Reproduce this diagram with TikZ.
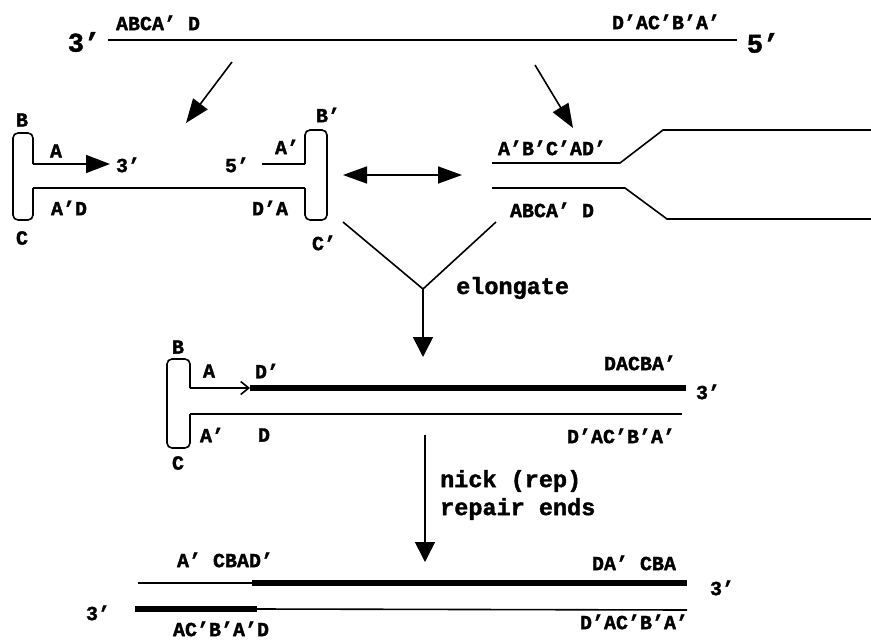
\documentclass[tikz,border=0pt]{standalone}
\usepackage{fontspec}
\setmainfont{Liberation Mono}[BoldFeatures={FakeBold=1.6}]
\usetikzlibrary{arrows.meta}
\begin{document}
\begin{tikzpicture}[x=1pt,y=-1pt,
  lab/.style={inner sep=0pt, font=\fontsize{20}{20}\selectfont\bfseries},
  big/.style={inner sep=0pt, font=\fontsize{27}{27}\selectfont\bfseries},
  small/.style={inner sep=0pt, anchor=west, font=\fontsize{23.5}{23.5}\selectfont\bfseries},
  strand/.style={line width=1.6pt},
  fat/.style={line width=6.5pt},
  loop/.style={line width=1.6pt, rounded corners=5pt},
  bigarrow/.style={line width=1.6pt, -{Triangle[length=24pt,width=18pt]}},
  ]
\useasboundingbox (0,0) rectangle (871,640);

% ---------- top strand ----------
\coordinate (t1) at (108,40);
\coordinate (t2) at (737,40);
\draw[strand] (t1) -- (t2);
\node[big] (t3p) at (84,42) {3’};
\node[big] (t5p) at (763,43) {5’};
\node[lab] (tl) at (158,23) {ABCA’ D};
\node[lab] (tr) at (666,22) {D’AC’B’A’};

% arrows from top strand
\coordinate (a1s) at (232,62);
\coordinate (a1e) at (186,123);
\draw[bigarrow] (a1s) -- (a1e);
\coordinate (a2s) at (535,65);
\coordinate (a2e) at (573,128);
\draw[bigarrow] (a2s) -- (a2e);

% ---------- left hairpin structure ----------
\coordinate (L1) at (33,164);
\coordinate (L2) at (110,164);
\coordinate (L3) at (33,188);
\coordinate (R1) at (305,188);
\coordinate (R2) at (305,164);
\coordinate (R3) at (262,164);
\draw[bigarrow] (L1) -- (L2);
\draw[loop] (L1) -- (33,133) -- (13,133) -- (13,220) -- (33,220) -- (L3);
\draw[strand] (L3) -- (R1);
\draw[loop] (R1) -- (305,220) -- (327,220) -- (327,130) -- (305,130) -- (R2);
\draw[strand] (R2) -- (R3);

\node[lab] (lB) at (22,120) {B};
\node[lab] (lA) at (56,151) {A};
\node[lab] (l3) at (128,165) {3’};
\node[lab] (lAD) at (69,208) {A’D};
\node[lab] (lC) at (22,238) {C};
\node[lab] (l5) at (237,165) {5’};
\node[lab] (rA) at (287,147) {A’};
\node[lab] (rB) at (328,115) {B’};
\node[lab] (rDA) at (270,208) {D’A};
\node[lab] (rC) at (324,243) {C’};

% double arrow
\coordinate (d1) at (343,175);
\coordinate (d2) at (462,175);
\draw[line width=1.6pt, {Triangle[length=24pt,width=17pt]}-{Triangle[length=24pt,width=17pt]}] (d1) -- (d2);

% ---------- right fork ----------
\coordinate (f1) at (492,163);
\coordinate (f2) at (492,188);
\draw[strand] (f1) -- (620,163) -- (663,130) -- (871,130);
\draw[strand] (f2) -- (625,188) -- (667,219) -- (871,219);
\node[lab] (fu) at (552,148) {A’B’C’AD’};
\node[lab] (fl) at (552,210) {ABCA’ D};

% ---------- V and elongate ----------
\coordinate (v1) at (343,222);
\coordinate (v2) at (496,222);
\coordinate (vv) at (423,289);
\coordinate (ve) at (423,357);
\draw[strand] (v1) -- (vv) -- (v2);
\draw[line width=1.6pt, -{Triangle[length=20pt,width=20pt]}] (vv) -- (ve);
\node[small] (el) at (456,288) {elongate};

% ---------- middle structure ----------
\coordinate (m1) at (190,388);
\coordinate (m2) at (250,388);
\coordinate (m3) at (686,388);
\coordinate (m4) at (190,414);
\coordinate (m5) at (682,414);
\draw[loop] (m1) -- (190,359) -- (167,359) -- (167,448) -- (190,448) -- (m4);
\draw[strand, -{Straight Barb[length=8pt,width=13pt]}] (m1) -- (m2);
\draw[fat] (m2) -- (m3);
\draw[strand] (m4) -- (m5);

\node[lab] (mB) at (178,347) {B};
\node[lab] (mA) at (209,371) {A};
\node[lab] (mD1) at (267,371) {D’};
\node[lab] (mr1) at (640,363) {DACBA’};
\node[lab] (m3p) at (708,392) {3’};
\node[lab] (mA2) at (212,435) {A’};
\node[lab] (mD) at (264,435) {D};
\node[lab] (mr2) at (621,436) {D’AC’B’A’};
\node[lab] (mC) at (178,463) {C};

% ---------- nick arrow ----------
\coordinate (n1) at (425,435);
\coordinate (n2) at (425,562);
\draw[line width=1.6pt, -{Triangle[length=20pt,width=20pt]}] (n1) -- (n2);
\node[small] (nk1) at (440,481) {nick (rep)};
\node[small] (nk2) at (440,509) {repair ends};

% ---------- bottom duplex ----------
\coordinate (b1) at (138,583);
\coordinate (b2) at (252,583);
\coordinate (b3) at (687,583);
\coordinate (b4) at (135,609);
\coordinate (b5) at (257,609);
\coordinate (b6) at (687,610);
\draw[strand] (b1) -- (b2);
\draw[fat] (b2) -- (b3);
\draw[fat] (b4) -- (b5);
\draw[strand] (b5) -- (b6);

\node[lab] (bl1) at (225,560) {A’ CBAD’};
\node[lab] (br1) at (634,563) {DA’ CBA};
\node[lab] (b3r) at (722,588) {3’};
\node[lab] (b3l) at (98,613) {3’};
\node[lab] (bl2) at (221,629) {AC’B’A’D};
\node[lab] (br2) at (634,622) {D’AC’B’A’};
\end{tikzpicture}
\end{document}
